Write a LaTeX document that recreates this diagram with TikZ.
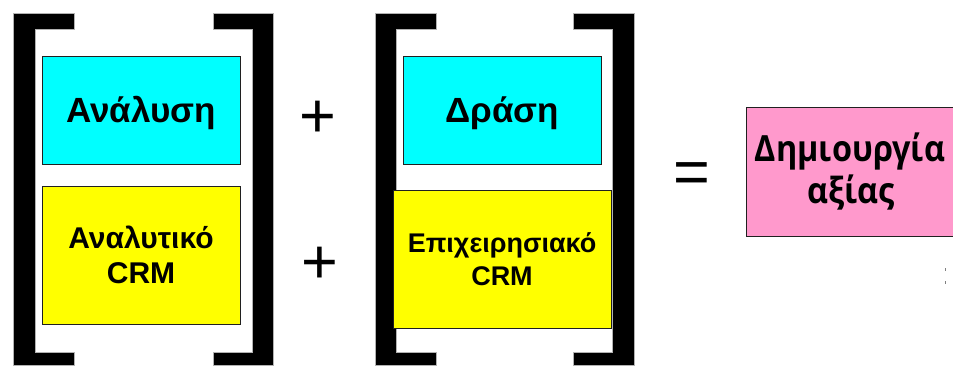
\documentclass[tikz,border=0pt]{standalone}
\usepackage{fontspec}
\setmainfont{Liberation Sans}
\newfontfamily\valuefont{Open Sans}[FakeStretch=0.9]
\definecolor{boxcyan}{HTML}{00FFFF}
\definecolor{boxyellow}{HTML}{FFFF00}
\definecolor{boxpink}{HTML}{FF99CC}
\definecolor{boxedge}{HTML}{202020}
\tikzset{
  bracket/.style={fill=black, draw=gray!60, line width=0.4pt},
  card/.style={draw=boxedge, line width=0.8pt},
  bigword/.style={anchor=base, inner sep=0pt, font=\fontsize{35}{35}\selectfont\bfseries},
  midword/.style={anchor=base, inner sep=0pt, font=\fontsize{30}{30}\selectfont\bfseries},
  smallword/.style={anchor=base, inner sep=0pt, font=\fontsize{27}{27}\selectfont\bfseries},
  valueword/.style={anchor=base, inner sep=0pt, font=\valuefont\fontsize{36}{36}\selectfont\bfseries},
  opsign/.style={anchor=center, inner sep=0pt, font=\fontsize{63}{63}\selectfont},
}
\begin{document}
\begin{tikzpicture}[x=1pt, y=-1pt]
\useasboundingbox (0,0) rectangle (953,365);

% first pair of square brackets
\fill[bracket] (13,13) -- (74,13) -- (74,29) -- (35,29) -- (35,352) -- (74,352) -- (74,365) -- (13,365) -- cycle;
\fill[bracket] (273,13) -- (213,13) -- (213,29) -- (252,29) -- (252,352) -- (213,352) -- (213,365) -- (273,365) -- cycle;

% second pair of square brackets
\fill[bracket] (375,13) -- (436,13) -- (436,29) -- (396,29) -- (396,352) -- (436,352) -- (436,365) -- (375,365) -- cycle;
\fill[bracket] (634,13) -- (573,13) -- (573,29) -- (612,29) -- (612,352) -- (573,352) -- (573,365) -- (634,365) -- cycle;

% boxes
\draw[card, fill=boxcyan]   (42,56)  rectangle (240,164);
\draw[card, fill=boxyellow] (42,186) rectangle (240,324);
\draw[card, fill=boxcyan]   (403,56) rectangle (601,164);
\draw[card, fill=boxyellow] (393,190) rectangle (611,328);
\draw[card, fill=boxpink]   (746,107) rectangle (960,236);

% box labels
\node[bigword]   (analysis) at (141,122) {Ανάλυση};
\node[midword]   (anlA)     at (141,248) {Αναλυτικό};
\node[midword]   (anlB)     at (141,283) {CRM};
\node[bigword]   (action)   at (502,122) {Δράση};
\node[smallword] (opA)      at (502,252) {Επιχειρησιακό};
\node[smallword] (opB)      at (502,285) {CRM};
\node[valueword] (valA)     at (850,161) {Δημιουργία};
\node[valueword] (valB)     at (851,203) {αξίας};

% operators
\node[opsign] (plusA) at (317.5,119) {+};
\node[opsign] (plusB) at (320,265.5) {+};
\node[opsign] (equal) at (692,178) {=};

% stray marks
\fill[gray] (944.6,267.5) rectangle (945.6,270.5);
\fill[gray] (944.6,280.5) rectangle (945.6,283.5);
\end{tikzpicture}
\end{document}
